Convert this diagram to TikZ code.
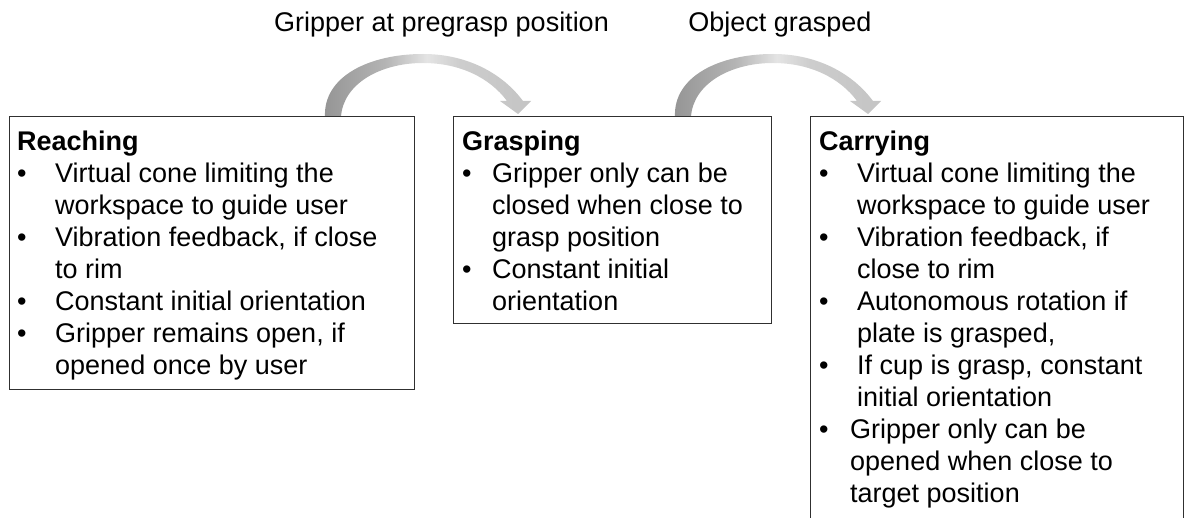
\documentclass[tikz,border=0pt]{standalone}
\usepackage{fontspec}
\setmainfont{Liberation Sans}
\definecolor{arcA}{HTML}{959595}
\definecolor{arcB}{HTML}{B4B4B4}
\definecolor{arcC}{HTML}{E4E4E4}
\definecolor{arcD}{HTML}{CDCDCD}
\definecolor{arcE}{HTML}{C4C4C4}
\definecolor{boxline}{HTML}{303030}
\pgfdeclarehorizontalshading{arcshade}{100bp}{color(0bp)=(arcA); color(25bp)=(arcA); color(40bp)=(arcB); color(50bp)=(arcC); color(58bp)=(arcD); color(75bp)=(arcE); color(100bp)=(arcE)}
\newlength{\bulind}
\newcommand{\bul}[1]{\makebox[\bulind][l]{•}#1}
\newcommand{\cont}[1]{\hspace*{\bulind}#1}
\tikzset{
  stagebox/.style={draw=boxline, line width=1.3pt, fill=white, inner sep=0pt, anchor=north west},
  stagetext/.style={inner sep=0pt, anchor=base west, font=\fontsize{27pt}{32pt}\selectfont},
  toplabel/.style={inner sep=0pt, anchor=base, font=\fontsize{27pt}{32pt}\selectfont},
  arcarrow/.style={shading=arcshade, draw=none}
}
\begin{document}
\begin{tikzpicture}[x=1pt, y=-1pt]
\useasboundingbox (0,0) rectangle (1187,518);
\clip (0,0) rectangle (1187,518);
% curved arrows
\foreach \dx/\nm in {0/arcone, 350/arctwo}{
  \begin{scope}[shift={(\dx,0)}]
    \shade[arcarrow] (325,117) .. controls (323,76) and (370,54) .. (423,54)
      .. controls (468,54) and (503,74) .. (523,101)
      -- (531,101) -- (518,114) -- (500,101) -- (507,101)
      .. controls (490,78) and (460,63) .. (423,63)
      .. controls (380,63) and (343,84) .. (341,117) -- cycle;
  \end{scope}
}
% labels
\node[toplabel] (lblone) at (441.5,32) {Gripper at pregrasp position};
\node[toplabel] (lbltwo) at (780,32) {Object grasped};
% boxes
\node[stagebox, minimum width=405pt, minimum height=273pt] (reach) at (9,116) {};
\node[stagebox, minimum width=318pt, minimum height=207pt] (grasp) at (453,116) {};
\node[stagebox, minimum width=373pt, minimum height=430pt] (carry) at (810,116) {};
% texts
\node[stagetext] (reachtxt) at (17,151) {\parbox[t]{390pt}{\setlength{\parindent}{0pt}\setlength{\bulind}{38pt}%
\textbf{Reaching}\\
\bul{Virtual cone limiting the}\\
\cont{workspace to guide user}\\
\bul{Vibration feedback, if close}\\
\cont{to rim}\\
\bul{Constant initial orientation}\\
\bul{Gripper remains open, if}\\
\cont{opened once by user}}};
\node[stagetext] (grasptxt) at (462,151) {\parbox[t]{300pt}{\setlength{\parindent}{0pt}\setlength{\bulind}{30pt}%
\textbf{Grasping}\\
\bul{Gripper only can be}\\
\cont{closed when close to}\\
\cont{grasp position}\\
\bul{Constant initial}\\
\cont{orientation}}};
\node[stagetext] (carrytxt) at (819,151) {\parbox[t]{360pt}{\setlength{\parindent}{0pt}\setlength{\bulind}{38pt}%
\textbf{Carrying}\\
\bul{Virtual cone limiting the}\\
\cont{workspace to guide user}\\
\bul{Vibration feedback, if}\\
\cont{close to rim}\\
\bul{Autonomous rotation if}\\
\cont{plate is grasped,}\\
\bul{If cup is grasp, constant}\\
\cont{initial orientation}\\
\setlength{\bulind}{31pt}%
\bul{Gripper only can be}\\
\cont{opened when close to}\\
\cont{target position}}};
\end{tikzpicture}
\end{document}
